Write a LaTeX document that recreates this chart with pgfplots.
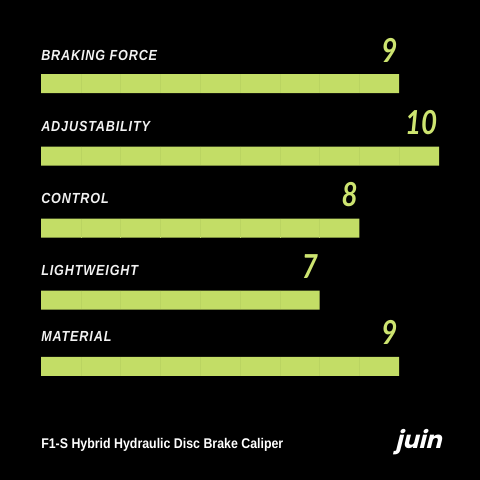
\documentclass[border=0pt]{standalone}
\usepackage{pgfplots}
\pgfplotsset{compat=1.18}
\usepackage{fontspec}
\setmainfont{Liberation Sans}
\newfontfamily\labelfont[FakeStretch=0.86,LetterSpace=6]{Liberation Sans}
\newfontfamily\numfont[FakeStretch=0.84]{Lato}
\newfontfamily\footfont[FakeStretch=0.88]{Liberation Sans}
\newfontfamily\logofont[FakeSlant=0.25]{Poppins}
\definecolor{barlime}{RGB}{195,221,102}
\definecolor{numlime}{RGB}{205,228,112}
\definecolor{segline}{RGB}{186,212,97}
\definecolor{labwhite}{RGB}{242,242,242}
\begin{document}
\begin{tikzpicture}
\fill[black] (0,0) rectangle (12cm,12cm);
\begin{axis}[
  at={(0,0)}, anchor=south west,
  scale only axis, width=12cm, height=12cm,
  xmin=-1.0302, xmax=11.0302,
  ymin=0, ymax=480, y dir=reverse,
  enlargelimits=false,
  hide axis, clip=false,
  xbar, bar width=19,
  /pgf/number format/assume math mode=true,
  nodes near coords,
  every node near coord/.append style={
    anchor=base east, inner sep=0pt, xshift=-1pt,
    yshift=0.54cm, text=numlime,
    font=\numfont\bfseries\itshape\fontsize{23.5}{26}\selectfont},
]
\addplot[fill=barlime, draw=none] coordinates {
  (9,83.7) (10,156) (8,228.2) (7,300) (9,366.3)
};
% faint segment dividers
\foreach \v/\yc in {9/83.7,10/156,8/228.2,7/300,9/366.3}{
  \pgfmathtruncatemacro{\n}{\v-1}
  \foreach \k in {1,...,\n}{
    \edef\tmp{\noexpand\draw[segline, line width=0.3pt] (axis cs:\k,\yc-9.3) -- (axis cs:\k,\yc+9.3);}
    \tmp
  }
}
\node[anchor=base west, inner sep=0pt, text=labwhite, font=\labelfont\bfseries\itshape\fontsize{10.4}{12}\selectfont] at (axis cs:0,60) {BRAKING FORCE};
\node[anchor=base west, inner sep=0pt, text=labwhite, font=\labelfont\bfseries\itshape\fontsize{10.4}{12}\selectfont] at (axis cs:0,131.7) {ADJUSTABILITY};
\node[anchor=base west, inner sep=0pt, text=labwhite, font=\labelfont\bfseries\itshape\fontsize{10.4}{12}\selectfont] at (axis cs:0,203.3) {CONTROL};
\node[anchor=base west, inner sep=0pt, text=labwhite, font=\labelfont\bfseries\itshape\fontsize{10.4}{12}\selectfont] at (axis cs:0,275) {LIGHTWEIGHT};
\node[anchor=base west, inner sep=0pt, text=labwhite, font=\labelfont\bfseries\itshape\fontsize{10.4}{12}\selectfont] at (axis cs:0,341.7) {MATERIAL};
\node[anchor=base west, inner sep=0pt, text=white, font=\footfont\bfseries\fontsize{10}{12}\selectfont] at (axis cs:0,448.3) {F1-S Hybrid Hydraulic Disc Brake Caliper};
\node[anchor=base west, inner sep=0pt, text=white, font=\logofont\bfseries\fontsize{17}{18}\selectfont] at (axis cs:8.894,448) {juin};
\end{axis}
\end{tikzpicture}
\end{document}
